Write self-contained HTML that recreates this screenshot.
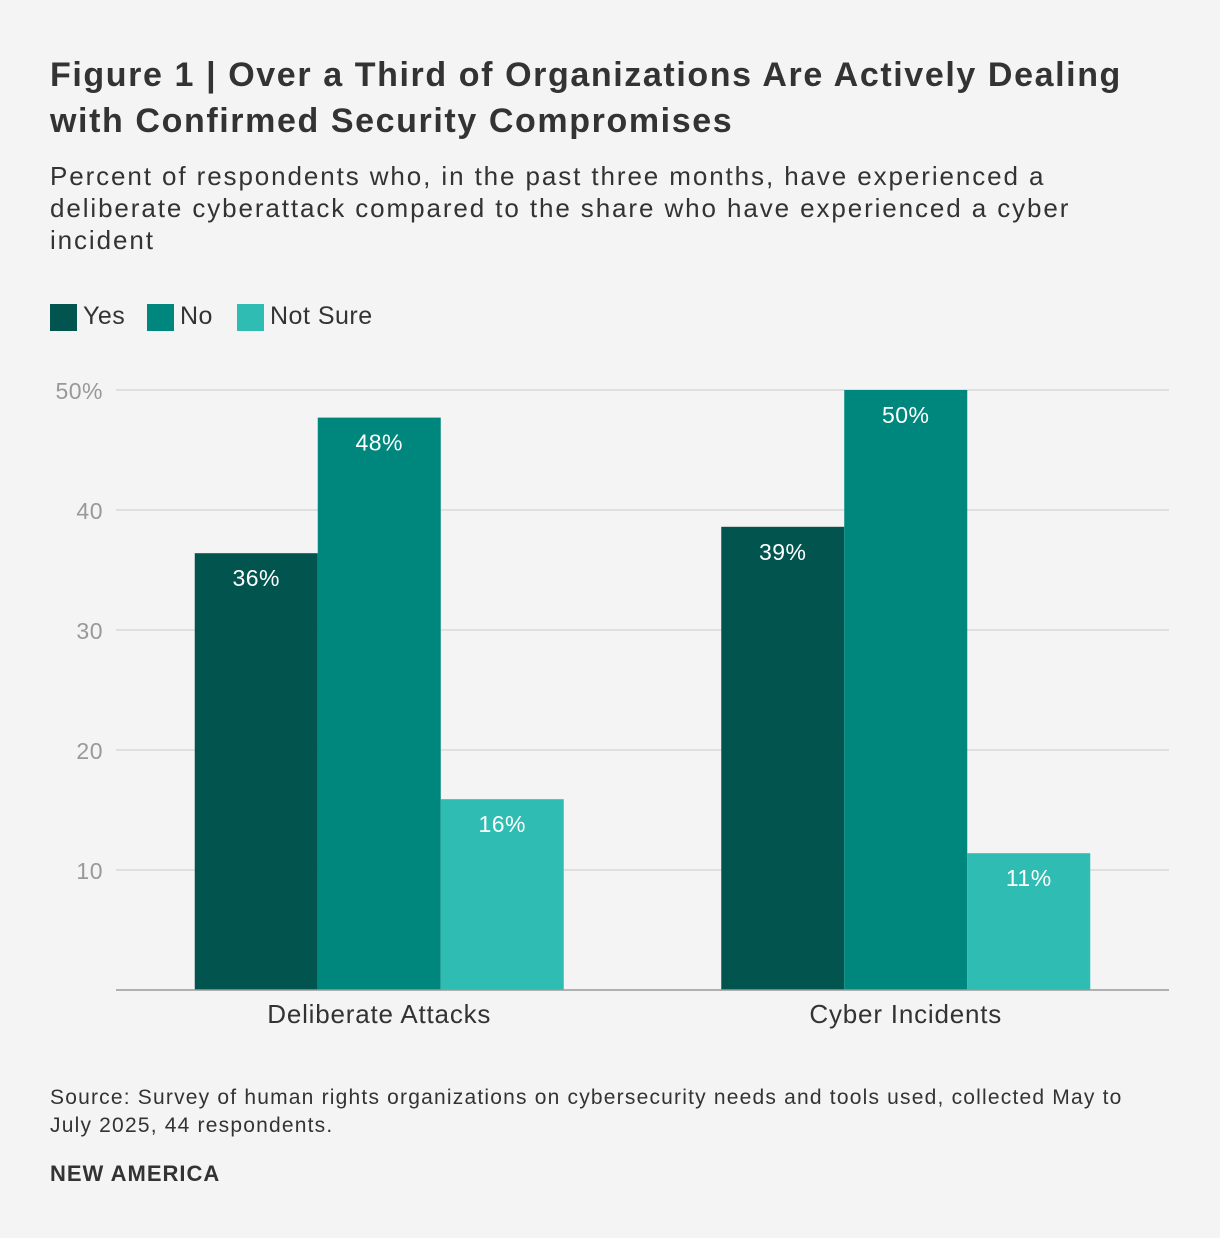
<!DOCTYPE html>
<html><head><meta charset="utf-8">
<style>
body{margin:0;background:#f4f4f4;font-family:"Liberation Sans",sans-serif;}
#wrap{position:relative;width:1220px;height:1238px;background:#f4f4f4;overflow:hidden;}
.t{position:absolute;left:50px;color:#333;white-space:nowrap;}
</style></head><body>
<div id="wrap">
<div class="t" style="top:52px;font-size:34px;font-weight:bold;line-height:46px;letter-spacing:1.6px;">Figure 1 | Over a Third of Organizations Are Actively Dealing<br>with Confirmed Security Compromises</div>
<div class="t" style="top:160px;font-size:26px;line-height:32px;letter-spacing:1.9px;">Percent of respondents who, in the past three months, have experienced a<br>deliberate cyberattack compared to the share who have experienced a cyber<br>incident</div>
<svg id="chart" width="1220" height="1238" style="position:absolute;left:0;top:0"></svg>
<div class="t" style="top:1084px;font-size:21px;line-height:28px;letter-spacing:1.2px;">Source: Survey of human rights organizations on cybersecurity needs and tools used, collected May to<br>July 2025, 44 respondents.</div>
<div class="t" style="top:1161px;font-size:22px;font-weight:bold;letter-spacing:1px;">NEW AMERICA</div>
</div>
<script>
const categories=["Deliberate Attacks","Cyber Incidents"];
const seriesNames=["Yes","No","Not Sure"];
const yesValues=[36.4,38.6];
const noValues=[47.7,50];
const notSureValues=[15.9,11.4];
const valueLabels=[["36%","48%","16%"],["39%","50%","11%"]];
const ticks=[10,20,30,40,50];
const colors=["#02554f","#00877d","#2fbcb3"];
const svg=document.getElementById('chart');
const NS="http://www.w3.org/2000/svg";
const x0=116,x1=1169,yBase=990,yTop=390,vmax=50;
const y=v=>yBase-(yBase-yTop)*v/vmax;
const groupW=(x1-x0)/categories.length, barW=123;
const bx=(g,s)=>x0+groupW*g+groupW/2-barW*1.5+barW*s;
function mk(tag,attrs,txt){const e=document.createElementNS(NS,tag);for(const k in attrs)e.setAttribute(k,attrs[k]);if(txt!==undefined)e.textContent=txt;svg.appendChild(e);return e;}
ticks.forEach(t=>{
 const l=mk('line',{x1:x0,x2:x1,y1:y(t),y2:y(t),stroke:'#d8d8d8','stroke-width':1.5});
 
 
 const tx=mk('text',{x:103,y:y(t)+9,'text-anchor':'end','font-size':23,fill:'#999','letter-spacing':0.5,'font-family':'Liberation Sans, sans-serif'},t===50?'50%':String(t));
 
 
});
const series=[yesValues,noValues,notSureValues];
categories.forEach((c,g)=>{
 series.forEach((vals,s)=>{
  const r=mk('rect',{x:bx(g,s),y:y(vals[g]),width:barW,height:yBase-y(vals[g]),fill:colors[s]});
  
  
  const t=mk('text',{x:bx(g,s)+barW/2,y:y(vals[g])+33,'text-anchor':'middle','font-size':23,'letter-spacing':0.5,fill:'#fff','font-family':'Liberation Sans, sans-serif'},valueLabels[g][s]);
  
  
 });
 const cl=mk('text',{x:x0+groupW*g+groupW/2,y:1023,'text-anchor':'middle','font-size':26,'letter-spacing':0.8,fill:'#333','font-family':'Liberation Sans, sans-serif'},c);
 
 
});
const ax=mk('line',{x1:x0,x2:x1,y1:yBase,y2:yBase,stroke:'#999','stroke-width':1.5});


let lx=50;const legW=[97,90,0];
seriesNames.forEach((n,i)=>{
 const r=mk('rect',{x:lx,y:304,width:27,height:27,fill:colors[i]});
 
 
 const t=mk('text',{x:lx+33,y:324,'font-size':25,'letter-spacing':0.5,fill:'#333','font-family':'Liberation Sans, sans-serif'},n);
 
 
 lx+=legW[i];
});
</script>
</body></html>
